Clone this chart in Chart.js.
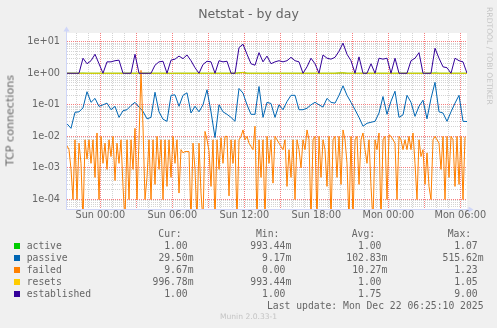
<!DOCTYPE html>
<html>
<head>
<meta charset="utf-8">
<title>Netstat - by day</title>
<script src="https://cdn.jsdelivr.net/npm/chart.js@4.4.1/dist/chart.umd.min.js"></script>
<style>
    html, body { margin: 0; padding: 0; background: #f0f0f0; }
    #graph { position: relative; width: 497px; height: 328px; overflow: hidden; color: #666666; }
    #graph canvas { position: absolute; left: 0; top: 0; }
    .txt { position: absolute; white-space: pre; }
    .sans { font-family: "DejaVu Sans", sans-serif; }
    .mono { font-family: "DejaVu Sans Mono", monospace; font-size: 9.72px; line-height: 12px; }
    .title { left: 0; width: 497px; top: 5.5px; text-align: center; font-size: 12.5px; line-height: 15px; }
    .unit { left: -60px; top: 113.5px; width: 140px; text-align: center; font-size: 11.1px; line-height: 13px; transform: rotate(-90deg); }
    .stamp { left: 428.5px; top: 51px; width: 120px; text-align: center; font-size: 7.6px; line-height: 10px; color: #c4c4c4; transform: rotate(90deg); }
    .version { left: 0; width: 497px; top: 312px; text-align: center; font-size: 7.6px; line-height: 10px; color: #c4c4c4; }
    .box { position: absolute; width: 6px; height: 6px; }
</style>
</head>
<body>
<div id="graph">
    <canvas id="netstat" width="497" height="328"></canvas>
    <div class="txt sans title">Netstat - by day</div>
    <div class="txt sans unit">TCP connections</div>
    <div class="txt sans stamp">RRDTOOL / TOBI OETIKER</div>
    <div id="legend"></div>
    <div class="txt mono" id="last-update" style="right: 13.5px; top: 299.5px;">Last update: Mon Dec 22 06:25:10 2025</div>
    <div class="txt sans version">Munin 2.0.33-1</div>
</div>
<script>
// Netstat - by day, munin style graph

// time axis in hours relative to Sun 00:00
const axisStart = -2.775;
const axisEnd = 30.558;
const coarseStep = 1 / 3;   // 20 min samples
const fineStep = 1 / 6;     // 10 min samples (failed)

const xTickHours = [0, 6, 12, 18, 24, 30];
const xTickLabels = ['Sun 00:00', 'Sun 06:00', 'Sun 12:00', 'Sun 18:00', 'Mon 00:00', 'Mon 06:00'];

const yTickValues = [1e-4, 1e-3, 1e-2, 1e-1, 1, 10];
const yTickLabels = ['1e-04', '1e-03', '1e-02', '1e-01', '1e+00', '1e+01'];
const yMin = 5.0e-5;
const yMax = 18.87;

const active = [
    1, 1, 1, 1, 1.01, 1, 1, 1, 1, 1,
    1, 1, 1, 1, 1, 1, 1, 1, 1, 1,
    1, 1, 1, 1, 1, 1, 0.993, 1, 1, 1,
    1, 1, 1, 1, 1, 1, 1, 1, 1, 1,
    1, 1, 1, 1.03, 1.07, 1, 1, 1, 1, 1,
    1, 1, 1, 1, 1, 1, 1, 1, 1, 1,
    1, 1, 1, 0.993, 1, 1, 1, 1, 1.02, 1.03,
    1, 1, 1, 1, 1, 1, 1, 1, 1, 1,
    1, 1, 1, 1, 1, 1, 1, 1, 1, 1,
    1, 1, 1.02, 1, 1, 1, 1, 1, 1, 1,
    1
];

const passive = [
    0.025, 0.018, 0.058, 0.06, 0.08, 0.26, 0.12, 0.16, 0.089, 0.1,
    0.113, 0.07, 0.089, 0.04, 0.065, 0.07, 0.095, 0.12, 0.085, 0.062,
    0.036, 0.04, 0.25, 0.06, 0.035, 0.03, 0.2, 0.207, 0.09, 0.2,
    0.24, 0.055, 0.09, 0.06, 0.1, 0.3, 0.06, 0.00917, 0.1, 0.06,
    0.05, 0.04, 0.03, 0.33, 0.235, 0.1, 0.05, 0.05, 0.38, 0.04,
    0.12, 0.11, 0.04, 0.1, 0.07, 0.127, 0.2, 0.2, 0.07, 0.07,
    0.078, 0.1, 0.12, 0.1, 0.085, 0.16, 0.12, 0.113, 0.2, 0.4,
    0.2, 0.12, 0.07, 0.04, 0.021, 0.026, 0.028, 0.03, 0.055, 0.183,
    0.05, 0.13, 0.27, 0.04, 0.048, 0.2, 0.12, 0.043, 0.09, 0.14,
    0.036, 0.16, 0.5156, 0.06, 0.055, 0.03, 0.06, 0.113, 0.2, 0.03,
    0.0295
];

const failed = [
    0.005, 0.0038, 0.0009, 0.0001, 0.0078, 0.0001, 0.0061, 0.0014, 0, 0.0078,
    0.0019, 0.0078, 0.0014, 0.0078, 0.0005, 0.0128, 0.0001, 0.01, 0.0014, 0.0061,
    0.0009, 0.0078, 0.0023, 0.01, 0.0004, 0.0061, 0.0014, 0.0078, 0.00026, 0,
    0.0078, 0.0001, 0.0078, 0.0009, 0.018, 0.0001, 0.0078, 1.23, 0.02, 0.0001,
    0.0005, 0.0078, 0.0001, 0.0078, 0.0003, 0.01, 0.0009, 0.0078, 0.0001, 0.0078,
    0.00026, 0.0078, 0.0005, 0.01, 0.0014, 0.0078, 0.00016, 0.0038, 0.003, 0.0033,
    0.0033, 0.0033, 0, 0.0061, 0.0009, 0, 0.0061, 0.00016, 0, 0.0144,
    0.0078, 0.0035, 0.00026, 0.0078, 0, 0.0078, 0.0009, 0.009, 0.0014, 0.01,
    0.01, 0.00013, 0.0078, 0.0014, 0.0078, 0, 0.0078, 0.01, 0.016, 0.0078,
    0.01, 0.0061, 0.0048, 0.0038, 0.021, 0, 0.0078, 0.0005, 0.0078, 0,
    0.01, 0.0014, 0.0078, 0.00033, 0.01, 0.0078, 0.0061, 0.0048, 0.0038, 0.0078,
    0.00026, 0.0038, 0.0005, 0.0078, 0.0001, 0.0078, 0.0038, 0.001, 0.0078, 0.0038,
    0.016, 0.0078, 0, 0.0078, 0.01, 0, 0.01, 0.0005, 0.0078, 0.0038,
    0.00026, 0.01, 0, 0.0078, 0.01, 0.0005, 0.01, 0.0003, 0.016, 0.0078,
    0.0014, 0, 0.01, 0, 0.0078, 0.01, 0.0003, 0.0078, 0.0128, 0.0038,
    0.0014, 0.0078, 0.00026, 0, 0.0078, 0.0038, 0.0128, 0, 0.0078, 0.01,
    0.0001, 0.0113, 0.01, 0.0078, 0.0061, 0.0001, 0.01, 0.0078, 0.0038, 0.0078,
    0.0038, 0.01, 0.0038, 0.0128, 0.0014, 0.0001, 0.0078, 0.0023, 0.0038, 0.0003,
    0.003, 0.00026, 0.0001, 0.0078, 0.01, 0.0078, 0.0061, 0.0009, 0.01, 0.0001,
    0.01, 0.0005, 0.01, 0.0078, 0.00026, 0.01, 0.0003, 0.01, 0.0001, 0.00967
];

const resets = [
    1, 1, 1, 1, 1, 1, 1, 1, 1, 1,
    1, 1, 1, 1, 1, 1, 1, 1, 1, 1,
    1, 1, 1, 1, 1, 1, 1, 1, 1, 1,
    1, 1, 1, 1, 1, 1, 1, 1, 1, 1,
    1, 1, 1, 1.02, 1.05, 1, 1, 1, 1, 0.993,
    1, 1, 1, 1, 1, 1, 1, 1, 1, 1,
    1, 1, 1, 1, 1, 1, 1, 1, 1.02, 1.03,
    1, 1, 1, 1, 1, 1, 1, 1, 1, 1,
    1, 1, 1, 1, 1, 1, 1, 1, 1, 1,
    1, 1, 1, 1, 1, 1, 1, 1, 1, 1,
    0.997
];

const established = [
    1, 1, 1, 1, 3, 2, 2.5, 4, 2, 1,
    2.3, 2.3, 2.5, 2.6, 1, 1, 1, 4, 1, 1,
    1, 1, 1.8, 2.3, 2.4, 1, 2.6, 2.8, 3.5, 2.9,
    3.8, 2.5, 1.5, 1, 1.9, 2.4, 2.3, 1, 2.5, 2.3,
    2.4, 1, 1, 6.5, 8.3, 4, 2, 1.8, 4.5, 2.3,
    3.5, 2, 2.3, 2.5, 2.3, 2.5, 3.2, 2.5, 2.3, 1,
    1.6, 3, 2, 1, 3.8, 3, 2.8, 3.2, 5, 9,
    4, 2.5, 1, 3.3, 1, 1, 2, 1, 3, 2.8,
    3, 1, 3, 1, 1, 1, 2.5, 3, 4.5, 1,
    1, 1, 6.2, 3, 1.6, 1.5, 1, 3, 2.5, 2.3,
    1
];

// legend table
const legendNames = ['active', 'passive', 'failed', 'resets', 'established'];
const curValues = ['1.00 ', '29.50m', '9.67m', '996.78m', '1.00 '];
const minValues = ['993.44m', '9.17m', '0.00 ', '993.44m', '1.00 '];
const avgValues = ['1.00 ', '102.83m', '10.27m', '1.00 ', '1.75 '];
const maxValues = ['1.07 ', '515.62m', '1.23 ', '1.05 ', '9.00 '];

const seriesColors = ['#00cc00', '#0066b3', '#ff8000', '#ffcc00', '#330099'];
const fontColor = '#666666';
const axisColor = '#cfd6f8';
const gridColor = 'rgba(143, 143, 143, 0.38)';
const majorGridColor = 'rgba(240, 0, 0, 0.5)';

// zero can't sit on a log axis, push it below the canvas bottom
const zeroFloor = 2e-5;

const toPoints = (values, step) => values.map((v, i) => ({
    x: axisStart + i * step,
    y: v > 0 ? v : zeroFloor
}));

const isDecade = (v) => Math.abs(Math.log10(v) - Math.round(Math.log10(v))) < 1e-6;

function buildLegend() {
    const legend = document.getElementById('legend');
    const rowTop = (row) => 227.5 + row * 12;

    const headers = [['Cur:', 158.3], ['Min:', 256], ['Avg:', 351.7], ['Max:', 447.7]];
    headers.forEach(([text, left]) => {
        const el = document.createElement('div');
        el.className = 'txt mono';
        el.style.left = left + 'px';
        el.style.top = rowTop(0) + 'px';
        el.textContent = text;
        legend.appendChild(el);
    });

    const columns = [[curValues, 193.5], [minValues, 291.3], [avgValues, 387.3], [maxValues, 483.5]];

    legendNames.forEach((name, i) => {
        const top = rowTop(i + 1);

        const box = document.createElement('div');
        box.className = 'box';
        box.style.left = '14px';
        box.style.top = (top + 3) + 'px';
        box.style.background = seriesColors[i];
        legend.appendChild(box);

        const label = document.createElement('div');
        label.className = 'txt mono';
        label.style.left = '26.7px';
        label.style.top = top + 'px';
        label.textContent = name;
        legend.appendChild(label);

        columns.forEach(([values, right]) => {
            const el = document.createElement('div');
            el.className = 'txt mono';
            el.style.right = (497 - right) + 'px';
            el.style.top = top + 'px';
            el.textContent = values[i];
            legend.appendChild(el);
        });
    });
}

// white canvas behind the plot
const canvasBackground = {
    id: 'canvasBackground',
    beforeDraw(chart) {
        const { ctx, chartArea } = chart;
        ctx.save();
        ctx.fillStyle = '#ffffff';
        ctx.fillRect(chartArea.left, chartArea.top, chartArea.right - chartArea.left, chartArea.bottom - chartArea.top);
        ctx.restore();
    }
};

// rrdtool style axis lines with arrow heads
const axisArrows = {
    id: 'axisArrows',
    afterDatasetsDraw(chart) {
        const { ctx, chartArea } = chart;
        const x0 = chartArea.left - 0.5;
        const y0 = chartArea.bottom + 0.5;
        ctx.save();
        ctx.strokeStyle = axisColor;
        ctx.fillStyle = axisColor;
        ctx.lineWidth = 1;

        ctx.beginPath();
        ctx.moveTo(x0, y0);
        ctx.lineTo(x0, chartArea.top - 2);
        ctx.moveTo(x0, y0);
        ctx.lineTo(chartArea.right + 2, y0);
        ctx.stroke();

        ctx.beginPath();
        ctx.moveTo(x0 - 3, chartArea.top - 1.5);
        ctx.lineTo(x0 + 3, chartArea.top - 1.5);
        ctx.lineTo(x0, chartArea.top - 6.5);
        ctx.closePath();
        ctx.fill();

        ctx.beginPath();
        ctx.moveTo(chartArea.right + 1.5, y0 - 3);
        ctx.lineTo(chartArea.right + 1.5, y0 + 3);
        ctx.lineTo(chartArea.right + 6.5, y0);
        ctx.closePath();
        ctx.fill();
        ctx.restore();
    }
};

function initializeChart() {
    const ctx = document.getElementById('netstat').getContext('2d');
    const tickFont = { family: 'DejaVu Sans', size: 9.72 };

    const series = [
        { label: 'active', data: toPoints(active, coarseStep), order: 5 },
        { label: 'passive', data: toPoints(passive, coarseStep), order: 4 },
        { label: 'failed', data: toPoints(failed, fineStep), order: 3 },
        { label: 'resets', data: toPoints(resets, coarseStep), order: 2 },
        { label: 'established', data: toPoints(established, coarseStep), order: 1 }
    ];

    const datasets = series.map((s, i) => ({
        label: s.label,
        data: s.data,
        order: s.order,
        borderColor: seriesColors[i],
        borderWidth: 1,
        pointRadius: 0,
        tension: 0,
        fill: false
    }));

    const config = {
        type: 'line',
        data: { datasets: datasets },
        options: {
            responsive: false,
            animation: false,
            events: [],
            layout: { padding: { top: 33, right: 30, left: 0, bottom: 0 } },
            plugins: {
                legend: { display: false },
                tooltip: { enabled: false },
                title: { display: false }
            },
            scales: {
                x: {
                    type: 'linear',
                    min: axisStart,
                    max: axisEnd,
                    bounds: 'data',
                    afterFit: (scale) => { scale.height = 119; },
                    afterBuildTicks: (scale) => {
                        const ticks = [];
                        for (let h = Math.ceil(axisStart); h <= axisEnd; h++) {
                            ticks.push({ value: h });
                        }
                        scale.ticks = ticks;
                    },
                    grid: {
                        drawTicks: false,
                        lineWidth: 1,
                        color: (c) => (c.tick && c.tick.value % 3 === 0) ? majorGridColor : gridColor
                    },
                    border: { display: false, dash: [1, 1] },
                    ticks: {
                        autoSkip: false,
                        maxRotation: 0,
                        padding: 1,
                        color: fontColor,
                        font: tickFont,
                        callback: (value) => {
                            const idx = xTickHours.indexOf(value);
                            return idx >= 0 ? xTickLabels[idx] : '';
                        }
                    }
                },
                y: {
                    type: 'logarithmic',
                    min: yMin,
                    max: yMax,
                    bounds: 'data',
                    afterFit: (scale) => { scale.width = 67; },
                    afterBuildTicks: (scale) => {
                        const ticks = [];
                        for (let e = -5; e <= 1; e++) {
                            for (let m = 1; m <= 9; m++) {
                                const v = parseFloat((m * Math.pow(10, e)).toPrecision(6));
                                if (v >= yMin && v <= yMax) ticks.push({ value: v });
                            }
                        }
                        scale.ticks = ticks;
                    },
                    grid: {
                        drawTicks: false,
                        lineWidth: 1,
                        color: (c) => (c.tick && isDecade(c.tick.value)) ? majorGridColor : gridColor
                    },
                    border: { display: false, dash: [1, 1] },
                    ticks: {
                        autoSkip: false,
                        padding: 7,
                        color: fontColor,
                        font: tickFont,
                        callback: (value) => {
                            const idx = yTickValues.findIndex(t => Math.abs(Math.log10(t) - Math.log10(value)) < 1e-6);
                            return idx >= 0 ? yTickLabels[idx] : '';
                        }
                    }
                }
            }
        },
        plugins: [canvasBackground, axisArrows]
    };

    return new Chart(ctx, config);
}

buildLegend();
initializeChart();
</script>
</body>
</html>
